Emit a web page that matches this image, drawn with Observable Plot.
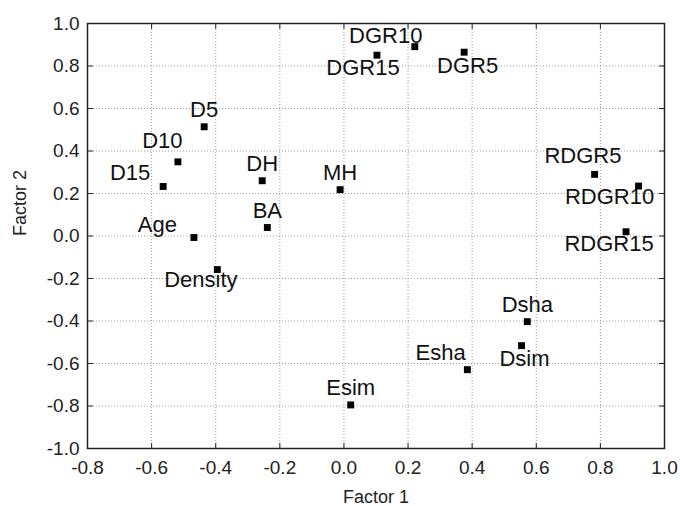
<!DOCTYPE html>
<html>
<head>
<meta charset="utf-8">
<script src="https://cdn.jsdelivr.net/npm/d3@7"></script>
<script src="https://cdn.jsdelivr.net/npm/@observablehq/plot@0.6"></script>
<style>
  html, body { margin: 0; padding: 0; background: #fff; }
  #chart svg { display: block; }
</style>
</head>
<body>
<div id="chart"></div>
<script>
// Variable loadings on the first two factors
const variables = ["D5", "D10", "D15", "DH", "MH", "BA", "Age", "Density",
  "DGR10", "DGR15", "DGR5", "RDGR5", "RDGR10", "RDGR15",
  "Dsha", "Dsim", "Esha", "Esim"];
const factor1 = [-0.436, -0.518, -0.564, -0.255, -0.012, -0.239, -0.468, -0.395,
  0.221, 0.103, 0.375, 0.782, 0.919, 0.880,
  0.572, 0.554, 0.385, 0.021];
const factor2 = [0.514, 0.349, 0.233, 0.260, 0.218, 0.040, -0.007, -0.158,
  0.891, 0.851, 0.865, 0.290, 0.235, 0.020,
  -0.403, -0.516, -0.629, -0.795];

// Axis ticks
const xTicks = [-0.8, -0.6, -0.4, -0.2, 0.0, 0.2, 0.4, 0.6, 0.8, 1.0];
const yTicks = [-1.0, -0.8, -0.6, -0.4, -0.2, 0.0, 0.2, 0.4, 0.6, 0.8, 1.0];

// Label placement: [shift of text centre, baseline offset] in px from the marker
const labelShift = {
  D5: [0, -9.5], D10: [-15.5, -14], D15: [-33, -6], DH: [0, -10], MH: [0, -10],
  BA: [0, -9.5], Age: [-36.5, -5], Density: [-16.5, 17.7],
  DGR10: [-29, -4], DGR15: [-14, 20], DGR5: [3.5, 21],
  RDGR5: [-11.7, -11.4], RDGR10: [-29, 18], RDGR15: [-17, 19],
  Dsha: [0, -9.5], Dsim: [3, 20], Esha: [-26.8, -9.7], Esim: [0, -9.5]
};

const labelSize = 22;
const tickFont = 19;
const font = "'Liberation Sans', Arial, Helvetica, sans-serif";

const points = variables.map((name, i) => ({name, f1: factor1[i], f2: factor2[i]}));

// Short inward tick marks along each side of the frame
const tickShape = {draw(context, l) { context.moveTo(0, 0); context.lineTo(0, -l); }};
const innerTicks = (data, opts) => Plot.vector(data, {
  length: 5, anchor: "start", shape: tickShape, stroke: "#222", strokeWidth: 1, ...opts
});

// One text mark per variable so each label gets its own offset
// (a middle line anchor sits the baseline 0.32em below y)
const labels = points.map(p => {
  const [dx, base] = labelShift[p.name];
  return Plot.text([p], {
    x: "f1", y: "f2", text: "name",
    fontSize: labelSize, fill: "#111", textAnchor: "middle", lineAnchor: "middle",
    dx, dy: base - 0.32 * labelSize
  });
});

const chart = Plot.plot({
  width: 680,
  height: 506,
  marginLeft: 87,
  marginRight: 16,
  marginTop: 23,
  marginBottom: 58,
  style: {fontFamily: font, background: "#fff", color: "#1a1a1a"},
  x: {domain: [-0.8, 1.0]},
  y: {domain: [-1.0, 1.0]},
  marks: [
    Plot.gridX(xTicks, {stroke: "#9a9a9a", strokeOpacity: 1, strokeDasharray: "1,2"}),
    Plot.gridY(yTicks, {stroke: "#9a9a9a", strokeOpacity: 1, strokeDasharray: "1,2"}),
    innerTicks(xTicks, {x: d => d, y: -1.0, rotate: 0}),
    innerTicks(xTicks, {x: d => d, y: 1.0, rotate: 180}),
    innerTicks(yTicks, {x: -0.8, y: d => d, rotate: 90}),
    innerTicks(yTicks, {x: 1.0, y: d => d, rotate: -90}),
    Plot.frame({stroke: "#222", strokeWidth: 1.5}),
    Plot.axisX(xTicks, {
      tickSize: 0, tickPadding: 12, fontSize: tickFont, fill: "#222",
      tickFormat: d => d.toFixed(1), label: null
    }),
    Plot.axisY(yTicks, {
      tickSize: 0, tickPadding: 8, fontSize: tickFont, fill: "#222",
      tickFormat: d => d.toFixed(1), label: null
    }),
    Plot.text(["Factor 1"], {frameAnchor: "bottom", lineAnchor: "bottom", dy: 54,
      fontSize: 18, fill: "#222"}),
    Plot.text(["Factor 2"], {frameAnchor: "left", rotate: -90, lineAnchor: "top", dx: -74,
      fontSize: 18, fill: "#222"}),
    Plot.dot(points, {x: "f1", y: "f2", symbol: "square", r: 3.9, fill: "#000", stroke: "none"}),
    ...labels
  ]
});

document.getElementById("chart").appendChild(chart);
</script>
</body>
</html>
